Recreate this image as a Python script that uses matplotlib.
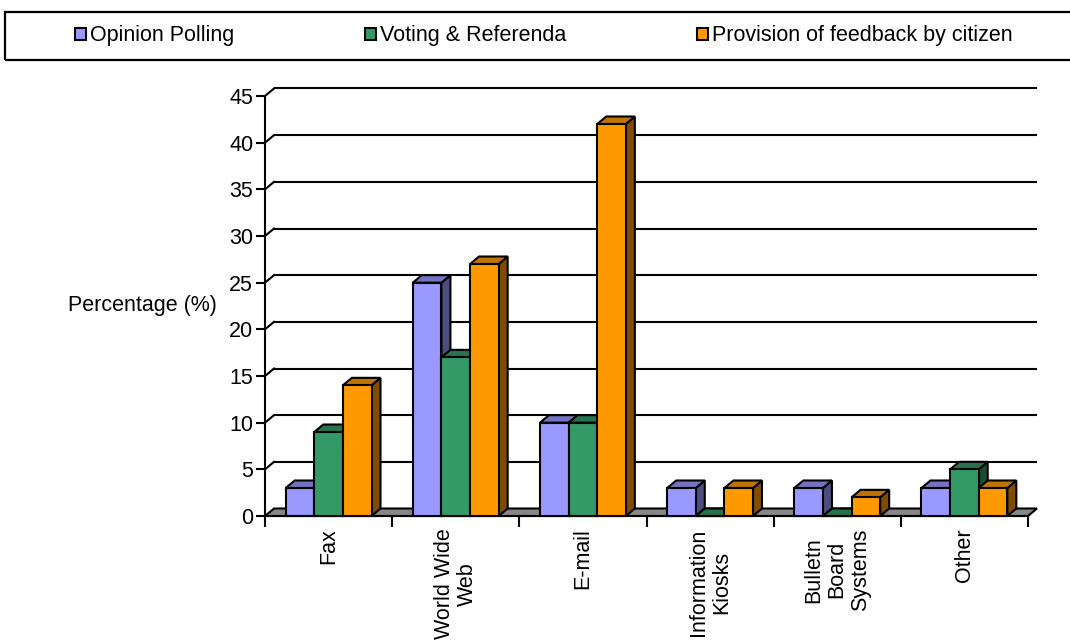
import matplotlib
matplotlib.use("Agg")
import matplotlib.pyplot as plt
from matplotlib.patches import Polygon, Patch, Rectangle
from matplotlib.colors import to_rgb

categories = ["Fax", "World Wide\nWeb", "E-mail", "Information\nKiosks",
              "Bulletn\nBoard\nSystems", "Other"]
series_names = ["Opinion Polling", "Voting & Referenda",
                "Provision of feedback by citizen"]
opinion_polling = [3, 25, 10, 3, 3, 3]
voting_referenda = [9, 17, 10, 0, 0, 5]
feedback_citizen = [14, 27, 42, 3, 2, 3]
y_ticks = [0, 5, 10, 15, 20, 25, 30, 35, 40, 45]

colors = ["#9999FF", "#339966", "#FF9900"]

plt.rcParams["font.family"] = ["Liberation Sans", "DejaVu Sans"]
FS = 15.5
LW = 1.5


def shade(color, k):
    r, g, b = to_rgb(color)
    return (r * k, g * k, b * k)


def draw_bar(ax, x0, w, h, color, dx, dy, z):
    x1 = x0 + w
    side = Polygon([(x1, 0), (x1 + dx, dy), (x1 + dx, h + dy), (x1, h)],
                   closed=True, facecolor=shade(color, 0.5),
                   edgecolor="black", linewidth=LW, zorder=z, clip_on=False)
    top = Polygon([(x0, h), (x0 + dx, h + dy), (x1 + dx, h + dy), (x1, h)],
                  closed=True, facecolor=shade(color, 0.75),
                  edgecolor="black", linewidth=LW, zorder=z, clip_on=False)
    ax.add_patch(side)
    ax.add_patch(top)
    ax.bar(x0, h, width=w, align="edge", color=color, edgecolor="black",
           linewidth=LW, zorder=z + 0.1, clip_on=False)


def main():
    fig = plt.figure(figsize=(10.7, 6.43), dpi=100)
    ax = fig.add_axes([265 / 1070, 1 - 516 / 643, 763 / 1070, 420 / 643])
    n = len(categories)
    ax.set_xlim(0, n)
    ax.set_ylim(0, 45)

    # depth of the fake 3d, in data units
    dx = 9 / (763 / n)
    dy = 7.5 / (420 / 45)

    # back wall grid lines and the little diagonals to the axis
    for v in y_ticks[1:]:
        ax.plot([dx, n + dx], [v + dy, v + dy], color="black", lw=LW,
                zorder=0.5, clip_on=False, solid_capstyle="butt")
        ax.plot([0, dx], [v, v + dy], color="black", lw=LW, zorder=0.5,
                clip_on=False)

    floor = Polygon([(0, 0), (n, 0), (n + dx, dy), (dx, dy)], closed=True,
                    facecolor="#878787", edgecolor="black", linewidth=LW,
                    zorder=1, clip_on=False)
    ax.add_patch(floor)

    w = 0.225
    data = [opinion_polling, voting_referenda, feedback_citizen]
    z = 2
    for i in range(n):
        for j, vals in enumerate(data):
            x0 = i + 0.5 - 1.5 * w + j * w
            draw_bar(ax, x0, w, vals[i], colors[j], dx, dy, z)
            z += 1

    for s in ["top", "right"]:
        ax.spines[s].set_visible(False)
    ax.spines["left"].set_linewidth(LW)
    ax.spines["bottom"].set_linewidth(LW)
    ax.spines["left"].set_zorder(100)

    ax.set_yticks(y_ticks)
    ax.tick_params(axis="y", length=6.5, width=LW, labelsize=FS, pad=2)
    ax.set_xticks(range(n + 1))
    ax.set_xticklabels([])
    ax.tick_params(axis="x", which="major", length=8, width=LW)
    ax.set_xticks([i + 0.5 for i in range(n)], minor=True)
    ax.set_xticklabels(categories, minor=True, rotation=90, fontsize=FS,
                       va="top", ha="center", linespacing=1.15)
    ax.tick_params(axis="x", which="minor", length=0, pad=9)

    ax.set_ylabel("Percentage (%)", fontsize=FS, rotation=0,
                  ha="center", va="center")
    ax.yaxis.set_label_coords(-0.161, 0.502)

    # legend box across the top
    fig.patches.append(Rectangle((5 / 1070, 1 - 60 / 643), 1.0, 48 / 643,
                                 transform=fig.transFigure, fill=False,
                                 edgecolor="black", linewidth=1.6))
    handles = [Patch(facecolor=c, edgecolor="black", linewidth=LW)
               for c in colors]
    fig.legend(handles, series_names, loc="center", ncol=3, mode="expand",
               bbox_to_anchor=(75 / 1070, 1 - 51 / 643, 938 / 1070, 30 / 643),
               frameon=False, fontsize=FS, handlelength=0.5,
               handleheight=0.5, handletextpad=0.2, borderaxespad=0,
               borderpad=0)

    fig.savefig("out.png", dpi=100)


if __name__ == "__main__":
    main()
